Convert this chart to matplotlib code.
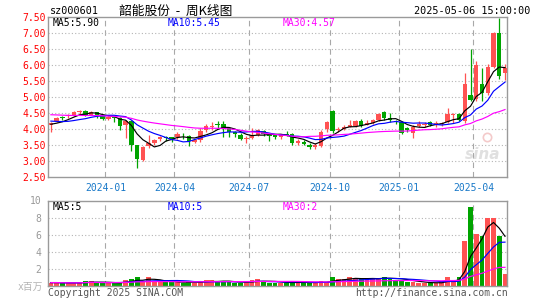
import matplotlib
matplotlib.use('Agg')
import matplotlib.pyplot as plt
import numpy as np
import pandas as pd

plt.rcParams['font.family'] = ['DejaVu Sans Mono', 'Noto Sans CJK SC']

# ---------------- data (weekly bars, 2023-10-23 .. 2025-05-06) ----------------
opens = [4.12, 4.24, 4.36, 4.41, 4.42, 4.54, 4.58, 4.45, 4.53, 4.40,
         4.33, 4.38, 4.36, 4.12, 4.24, 3.50, 3.04, 3.46, 3.55, 3.70,
         3.76, 3.74, 3.75, 3.80, 3.78, 3.60, 3.67, 3.96, 4.07, 4.16,
         4.16, 4.03, 3.90, 3.82, 3.68, 3.73, 3.82, 3.95, 3.80, 3.82,
         3.74, 3.86, 3.85, 3.56, 3.61, 3.51, 3.43, 3.48, 4.00, 4.57,
         3.96, 4.00, 4.08, 4.10, 4.24, 4.14, 4.19, 4.29, 4.55, 4.34,
         4.26, 4.22, 4.03, 3.87, 4.11, 4.13, 4.22, 4.14, 4.16, 4.22,
         4.45, 4.47, 4.26, 5.07, 4.95, 5.42, 5.13, 5.95, 7.00, 5.75]
highs = [4.22, 4.38, 4.41, 4.48, 4.58, 4.60, 4.60, 4.57, 4.55, 4.42,
         4.42, 4.40, 4.38, 4.28, 4.28, 3.50, 3.46, 3.82, 3.70, 3.80,
         3.78, 3.76, 3.92, 3.88, 3.82, 3.70, 4.02, 4.16, 4.23, 4.25,
         4.25, 4.08, 3.95, 3.87, 3.78, 4.05, 4.00, 3.97, 3.85, 3.86,
         3.86, 3.95, 3.88, 3.68, 3.66, 3.55, 3.56, 3.98, 4.25, 4.60,
         4.08, 4.12, 4.30, 4.30, 4.31, 4.30, 4.32, 4.50, 4.58, 4.50,
         4.30, 4.25, 4.08, 4.12, 4.24, 4.22, 4.26, 4.24, 4.22, 4.65,
         4.50, 4.52, 5.75, 6.50, 6.14, 5.93, 6.05, 7.05, 7.48, 6.05]
lows = [3.92, 4.22, 4.28, 4.36, 4.40, 4.48, 4.42, 4.43, 4.35, 4.29,
        4.30, 4.22, 3.96, 3.72, 3.32, 2.77, 3.00, 3.40, 3.50, 3.63,
        3.62, 3.60, 3.70, 3.68, 3.48, 3.58, 3.60, 3.90, 3.98, 4.02,
        3.75, 3.76, 3.76, 3.65, 3.55, 3.70, 3.78, 3.80, 3.62, 3.70,
        3.70, 3.78, 3.50, 3.50, 3.50, 3.38, 3.38, 3.44, 3.90, 3.88,
        3.90, 3.96, 4.06, 4.08, 4.08, 4.12, 4.15, 4.27, 4.30, 4.22,
        4.16, 3.85, 3.92, 3.72, 4.06, 4.08, 4.10, 4.06, 4.10, 4.18,
        4.20, 4.25, 4.20, 4.87, 4.88, 4.88, 5.08, 5.90, 5.58, 5.55]
closes = [4.20, 4.35, 4.34, 4.44, 4.55, 4.56, 4.45, 4.55, 4.40, 4.32,
          4.38, 4.35, 4.10, 4.25, 3.50, 3.05, 3.44, 3.55, 3.67, 3.74,
          3.73, 3.69, 3.86, 3.77, 3.62, 3.67, 3.93, 4.10, 4.10, 4.13,
          4.03, 3.90, 3.86, 3.68, 3.72, 3.82, 3.98, 3.86, 3.78, 3.74,
          3.84, 3.83, 3.56, 3.64, 3.52, 3.44, 3.51, 3.92, 4.21, 3.93,
          4.00, 4.08, 4.14, 4.24, 4.10, 4.19, 4.29, 4.48, 4.36, 4.29,
          4.22, 3.87, 3.98, 4.08, 4.16, 4.17, 4.14, 4.18, 4.20, 4.48,
          4.48, 4.29, 5.42, 4.92, 6.00, 5.13, 5.95, 7.00, 5.65, 5.90]
volumes = [0.40, 0.40, 0.35, 0.35, 0.35, 0.40, 0.55, 0.55, 0.38, 0.35,
           0.35, 0.40, 0.40, 0.65, 0.77, 1.10, 0.45, 1.00, 0.60, 0.45,
           0.45, 0.50, 0.45, 0.40, 0.45, 0.40, 0.50, 0.65, 0.65, 0.45,
           0.60, 0.50, 0.35, 0.40, 0.45, 0.65, 0.80, 0.50, 0.40, 0.35,
           0.40, 0.40, 0.50, 0.40, 0.38, 0.35, 0.40, 0.60, 0.45, 1.00,
           0.85, 0.77, 1.00, 0.85, 0.85, 0.85, 0.85, 0.90, 1.10, 0.85,
           0.70, 0.65, 0.50, 0.50, 0.40, 0.30, 0.30, 0.40, 0.50, 1.10,
           0.50, 1.10, 5.30, 9.25, 6.10, 5.80, 8.00, 8.00, 5.90, 1.35]
# estimated closes of the weeks before the first bar (lead-in for the moving averages)
prior_closes = [4.52, 4.58, 4.63, 4.60, 4.55, 4.50, 4.48, 4.53, 4.60, 4.66,
                4.62, 4.57, 4.52, 4.55, 4.58, 4.54, 4.50, 4.52, 4.49, 4.46,
                4.44, 4.40, 4.36, 4.30, 4.25, 4.18, 4.12, 4.10, 4.16]

tick_idx = [10, 22, 35, 49, 61, 74]
tick_labels = ['2024-01', '2024-04', '2024-07', '2024-10', '2025-01', '2025-04']
price_ticks = [2.5, 3.0, 3.5, 4.0, 4.5, 5.0, 5.5, 6.0, 6.5, 7.0, 7.5]
vol_ticks = [2, 4, 6, 8, 10]
ma_price_labels = ['MA5:5.90', 'MA10:5.45', 'MA30:4.57']
ma_vol_labels = ['MA5:5', 'MA10:5', 'MA30:2']
stock_code = 'sz000601'
title = '韶能股份  -  周K线图'
timestamp = '2025-05-06 15:00:00'

# ---------------- styling ----------------
RED = '#ff5252'
GREEN = '#00a400'
MA_COLORS = ['#000000', '#0000ff', '#ff00ff']
GRID = '#b4b4b4'
W, H = 545, 300

o = np.array(opens); h = np.array(highs); l = np.array(lows); c = np.array(closes)
v = np.array(volumes)
x = np.arange(len(c))
cols = np.where(c >= o, RED, GREEN)

full = pd.Series(prior_closes + closes)
n0 = len(prior_closes)
price_ma = [full.rolling(p).mean().values[n0:] for p in (5, 10, 30)]
vs = pd.Series(volumes)
vol_ma = [vs.rolling(p, min_periods=1).mean().values for p in (5, 10, 30)]

fig = plt.figure(figsize=(W / 100, H / 100), dpi=100)

def fx(px):
    return px / W

def fy(py):
    return 1 - py / H

left, right = 48.3, 507.3
ax = fig.add_axes([fx(left), fy(177), fx(right - left), (177 - 17.4) / H])
axv = fig.add_axes([fx(left), fy(286), fx(right - left), (286 - 200.5) / H])

for a in (ax, axv):
    a.set_xlim(-0.45, 79.4)
    for s in a.spines.values():
        s.set_color('#9a9a9a')
        s.set_linewidth(1.0)
    for t in tick_idx:
        a.axvline(t - 0.5, color='#a8a8a8', lw=0.8, ls=(0, (5, 3.5)), zorder=0)

# main price panel
ax.set_ylim(2.5, 7.5)
for yv in price_ticks[1:-1]:
    ax.axhline(yv, color=GRID, lw=0.8, ls=(0, (1, 2)), zorder=0)
ax.vlines(x, l, h, colors=cols, lw=0.9, zorder=2)
body_b = np.minimum(o, c)
body_h = np.maximum(np.abs(c - o), 0.025)
ax.bar(x, body_h, bottom=body_b, width=0.76, color=cols, lw=0, zorder=3)
for ma, col in zip(price_ma, MA_COLORS):
    ax.plot(x, ma, color=col, lw=0.85, zorder=4)
ax.set_yticks(price_ticks)
ax.set_yticklabels(['%.2f' % t for t in price_ticks])
ax.tick_params(axis='y', length=0, pad=2, labelcolor='#ff0000', labelsize=7)
ax.set_xticks([t - 0.5 for t in tick_idx])
ax.set_xticklabels(tick_labels)
ax.tick_params(axis='x', length=0, pad=4, labelcolor='#1878c8', labelsize=7)

# watermark
ax.text(0.985, 0.14, 'sina', transform=ax.transAxes, ha='right', va='center',
        fontsize=11, fontstyle='italic', fontweight='bold', color='#e0e0e0',
        family='DejaVu Sans', zorder=1)
ax.plot([0.955], [0.25], transform=ax.transAxes, marker='o', ms=6, mfc='none',
        mec='#f4caca', mew=1.2, zorder=1)

# volume panel
axv.set_ylim(0, 9.9)
for yv in vol_ticks[:-1]:
    axv.axhline(yv, color=GRID, lw=0.8, ls=(0, (1, 2)), zorder=0)
axv.bar(x, v, width=0.84, color=cols, lw=0, zorder=2)
for ma, col in zip(vol_ma, MA_COLORS):
    axv.plot(x, ma, color=col, lw=0.85, zorder=3)
axv.set_yticks(vol_ticks)
axv.set_yticklabels([str(t) for t in vol_ticks])
axv.tick_params(axis='y', length=0, pad=5, labelcolor='#999999', labelsize=7)
axv.set_xticks([])

# texts
fig.text(fx(50), fy(11), stock_code, ha='left', va='center', fontsize=7.3, color='#000000')
fig.text(fx(176), fy(11), title, ha='center', va='center', fontsize=9.2, color='#000000',
         family=['Noto Sans CJK SC', 'DejaVu Sans'])
fig.text(fx(530), fy(11), timestamp, ha='right', va='center', fontsize=7.3, color='#000000')

for lab, col, px in zip(ma_price_labels, MA_COLORS, (52.3, 167.7, 282.7)):
    fig.text(fx(px), fy(23.5), lab, ha='left', va='center', fontsize=7, color=col)
for lab, col, px in zip(ma_vol_labels, MA_COLORS, (52.3, 167.7, 282.7)):
    fig.text(fx(px), fy(206.5), lab, ha='left', va='center', fontsize=7, color=col)

fig.text(fx(43.5), fy(287), 'x百万', ha='right', va='center', fontsize=7, color='#b4b4b4')
fig.text(fx(48), fy(293.5), 'Copyright 2025 SINA.COM', ha='left', va='center', fontsize=7,
         color='#555555')
fig.text(fx(507.5), fy(293.5), 'http://finance.sina.com.cn', ha='right', va='center',
         fontsize=7, color='#555555')

fig.savefig('out.png', dpi=100)
